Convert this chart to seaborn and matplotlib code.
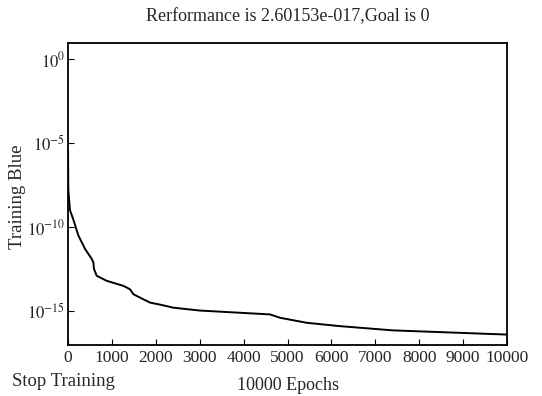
import numpy as np
import pandas as pd
import matplotlib
matplotlib.use("Agg")
import matplotlib.pyplot as plt
import seaborn as sns

# values (log10 of training performance)
epochs = [0, 7, 45, 120, 235, 387, 540, 577, 592, 653, 880, 1260, 1410, 1490,
          1715, 1870, 2100, 2400, 3000, 4600, 4830, 5440, 6200, 7400, 10000]
log_perf = [-5.4, -7.8, -9.0, -9.55, -10.5, -11.3, -11.9, -12.1, -12.5, -12.9,
            -13.2, -13.5, -13.7, -14.0, -14.3, -14.5, -14.62, -14.8, -14.97,
            -15.2, -15.4, -15.7, -15.9, -16.15, -16.4]
y_ticks = [1e0, 1e-5, 1e-10, 1e-15]
y_labels = ["$10^{0}$", "$10^{-5}$", "$10^{-10}$", "$10^{-15}$"]

df = pd.DataFrame({"Epoch": epochs, "Perf": 10 ** np.array(log_perf)})

sns.set_style("ticks")
plt.rcParams["font.family"] = ["Liberation Serif", "DejaVu Serif"]
plt.rcParams["mathtext.fontset"] = "stix"

fig = plt.figure(figsize=(5.42, 3.96), dpi=100)
ax = fig.add_axes([0.1255, 0.1288, 0.81, 0.7626])
sns.lineplot(x="Epoch", y="Perf", data=df, color="black", linewidth=1.4, ax=ax)
ax.set_yscale("log")
ax.set_ylim(10 ** -17.02, 10 ** 0.95)
ax.set_xlim(0, 10000)
ax.set_yticks(y_ticks)
ax.set_yticklabels(y_labels)
ax.yaxis.set_minor_locator(matplotlib.ticker.NullLocator())
ax.set_xticks(range(0, 10001, 1000))
ax.tick_params(direction="in", length=4, color="black")
ax.tick_params(axis="x", labelsize=12.5)
ax.tick_params(axis="y", labelsize=12, pad=2)
for s in ax.spines.values():
    s.set_linewidth(1.3)
    s.set_color("black")
ax.set_xlabel("10000 Epochs", fontsize=13, labelpad=8)
ax.set_ylabel("Training Blue", fontsize=13.5)
ax.yaxis.set_label_coords(-0.095, 0.49)
ax.set_title("Rerformance is 2.60153e-017,Goal is 0", fontsize=13, pad=16)
fig.text(0.022, 0.025, "Stop Training", fontsize=13.5)
fig.savefig("out.png", dpi=100)
